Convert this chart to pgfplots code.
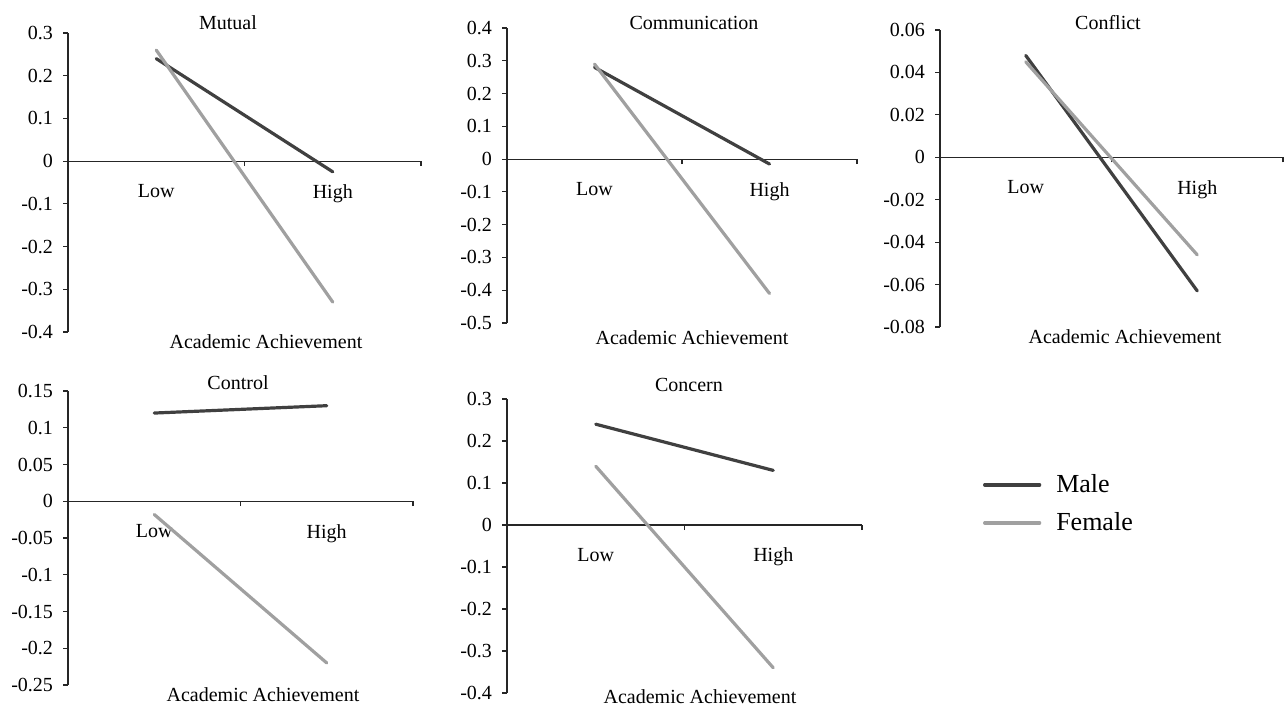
\documentclass[border=0pt]{standalone}
\usepackage{fontspec}
\setmainfont{Liberation Serif}
\usepackage{pgfplots}
\pgfplotsset{compat=1.18}
\definecolor{maleC}{HTML}{404040}
\definecolor{femC}{HTML}{A0A0A0}
\pgfplotsset{panel/.style={
  scale only axis, clip=false,
  axis x line*=middle, axis y line*=left,
  xmin=0, xmax=2, xtick={1,2}, xticklabels={},
  extra x ticks={0.5,1.5}, extra x tick labels={Low,High},
  extra x tick style={major tick length=0pt, tick label style={yshift=-8pt}},
  tick align=outside, major tick length=2.5pt,
  scaled y ticks=false,
  axis line style={black!85, line width=0.6pt},
  tick style={black!85, line width=0.6pt},
  ticklabel style={font=\rmfamily\fontsize{10}{12}\selectfont},
  yticklabel style={xshift=-1.5pt},
  every axis plot/.append style={line width=1.6pt, line cap=round},
}}
\begin{document}
\begin{tikzpicture}[x=0.5pt,y=0.5pt]
\path[use as bounding box] (0,0) rectangle (1285,706);
% Mutual
\begin{axis}[panel, at={(34pt,187pt)}, anchor=south west, width=176.5pt, height=149.5pt,
  ymin=-0.4, ymax=0.3, ytick={-0.4,-0.3,-0.2,-0.1,0,0.1,0.2,0.3},
  yticklabels={-0.4,-0.3,-0.2,-0.1,0,0.1,0.2,0.3}]
\addplot[maleC] coordinates {(0.5,0.24) (1.5,-0.025)};
\addplot[femC] coordinates {(0.5,0.26) (1.5,-0.33)};
\end{axis}
% Communication
\begin{axis}[panel, at={(253.5pt,191.5pt)}, anchor=south west, width=175pt, height=147.5pt,
  ymin=-0.5, ymax=0.4, ytick={-0.5,-0.4,-0.3,-0.2,-0.1,0,0.1,0.2,0.3,0.4},
  yticklabels={-0.5,-0.4,-0.3,-0.2,-0.1,0,0.1,0.2,0.3,0.4}]
\addplot[maleC] coordinates {(0.5,0.28) (1.5,-0.015)};
\addplot[femC] coordinates {(0.5,0.29) (1.5,-0.41)};
\end{axis}
% Conflict
\begin{axis}[panel, at={(470pt,189.5pt)}, anchor=south west, width=171.5pt, height=148.5pt,
  ymin=-0.08, ymax=0.06, ytick={-0.08,-0.06,-0.04,-0.02,0,0.02,0.04,0.06},
  yticklabels={-0.08,-0.06,-0.04,-0.02,0,0.02,0.04,0.06}]
\addplot[maleC] coordinates {(0.5,0.048) (1.5,-0.063)};
\addplot[femC] coordinates {(0.5,0.045) (1.5,-0.046)};
\end{axis}
% Control
\begin{axis}[panel, at={(34pt,10.5pt)}, anchor=south west, width=172.5pt, height=147pt,
  ymin=-0.25, ymax=0.15, ytick={-0.25,-0.2,-0.15,-0.1,-0.05,0,0.05,0.1,0.15},
  yticklabels={-0.25,-0.2,-0.15,-0.1,-0.05,0,0.05,0.1,0.15}]
\addplot[maleC] coordinates {(0.5,0.12) (1.5,0.13)};
\addplot[femC] coordinates {(0.5,-0.018) (1.5,-0.22)};
\end{axis}
% Concern
\begin{axis}[panel, at={(253.5pt,6.5pt)}, anchor=south west, width=177.5pt, height=147pt,
  ymin=-0.4, ymax=0.3, ytick={-0.4,-0.3,-0.2,-0.1,0,0.1,0.2,0.3},
  yticklabels={-0.4,-0.3,-0.2,-0.1,0,0.1,0.2,0.3},
  legend style={draw=none, fill=none, at={(1.341,0.643)}, anchor=west,
    inner sep=0pt, outer sep=0pt, nodes={inner sep=0pt}, row sep=8.5pt, column sep=7.5pt,
    font=\rmfamily\fontsize{13}{15}\selectfont},
  legend cell align=left,
  legend image code/.code={\draw[#1] (0pt,0pt) -- (27.5pt,0pt);}]
\addplot[maleC] coordinates {(0.5,0.24) (1.5,0.13)};
\addlegendentry{Male}
\addplot[femC] coordinates {(0.5,0.14) (1.5,-0.34)};
\addlegendentry{Female}
\end{axis}
% titles and axis titles
\begin{scope}[every node/.style={inner sep=0pt, font=\rmfamily\fontsize{10}{12}\selectfont}]
\node at (114pt,341.5pt) {Mutual};
\node at (133pt,182pt) {Academic Achievement};
\node at (347pt,341.5pt) {Communication};
\node at (346pt,184pt) {Academic Achievement};
\node at (554pt,341.5pt) {Conflict};
\node at (562.5pt,184.5pt) {Academic Achievement};
\node at (119pt,161.5pt) {Control};
\node at (131.5pt,5.5pt) {Academic Achievement};
\node at (344.5pt,160.5pt) {Concern};
\node at (350pt,4.5pt) {Academic Achievement};
\end{scope}
\end{tikzpicture}
\end{document}
